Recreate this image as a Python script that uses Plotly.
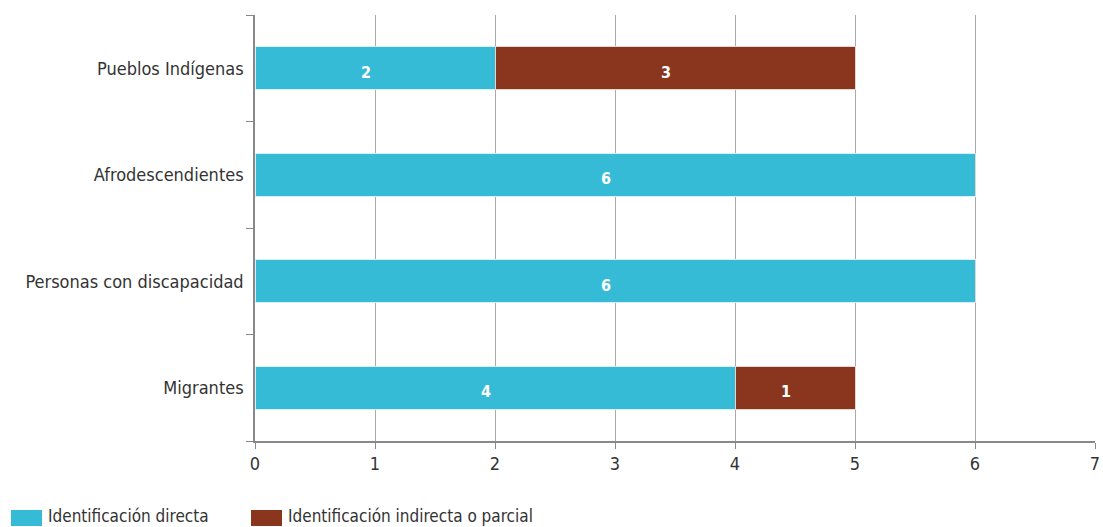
import plotly.graph_objects as go

categories = ["Migrantes", "Personas con discapacidad", "Afrodescendientes", "Pueblos Indígenas"]
directa = [4, 6, 6, 2]
indirecta = [1, 0, 0, 3]
x_ticks = [0, 1, 2, 3, 4, 5, 6, 7]
series_names = ["Identificación directa", "Identificación indirecta o parcial"]
colors = ["#36BBD7", "#8A361F"]

FONT = "DejaVu Sans Condensed, Liberation Sans Narrow, Roboto, sans-serif"
W, H = 1103, 527
ML, MR, MT, MB = 255, 8, 15, 86
PW, PH = W - ML - MR, H - MT - MB

def px_x(p):
    return (p - ML) / PW

def px_y(p):
    return (H - MB - p) / PH

fig = go.Figure()
for vals, name, col, lc in [(directa, series_names[0], colors[0], "#d8f0f6"),
                            (indirecta, series_names[1], colors[1], "#e6d4cf")]:
    fig.add_trace(go.Bar(
        y=categories, x=vals, orientation="h", name=name,
        marker=dict(color=col, line=dict(color=lc, width=1)),
        width=0.4, showlegend=False, hoverinfo="x+y",
    ))

# value labels, positioned from the data (segment midpoints)
for cat, d, i in zip(categories, directa, indirecta):
    for start, v in [(0, d), (d, i)]:
        if v:
            fig.add_annotation(x=start + v / 2, y=cat, text=f"<b>{v}</b>", showarrow=False,
                               xshift=-9, yshift=-4,
                               font=dict(size=16, color="white", family=FONT))

# custom legend with wide swatches
legend_x = [11, 251]
for lx, name, col in zip(legend_x, series_names, colors):
    fig.add_shape(type="rect", xref="paper", yref="paper",
                  x0=px_x(lx), x1=px_x(lx + 31), y0=px_y(526), y1=px_y(510),
                  fillcolor=col, line=dict(width=0))
    fig.add_annotation(xref="paper", yref="paper", x=px_x(lx + 35), y=px_y(516),
                       text=name, showarrow=False, xanchor="left", yanchor="middle",
                       font=dict(size=17, color="#333333", family=FONT))

fig.update_layout(
    barmode="stack",
    width=W, height=H,
    margin=dict(l=ML, r=MR, t=MT, b=MB, autoexpand=False),
    plot_bgcolor="white", paper_bgcolor="white",
    font=dict(family=FONT, size=18, color="#333333"),
    showlegend=False,
)
fig.update_xaxes(
    range=[0, 7], tickvals=x_ticks, showgrid=True, gridcolor="#aaaaaa", gridwidth=1,
    showline=True, linecolor="#888888", linewidth=1.5, ticks="outside", ticklen=6,
    tickcolor="#888888", zeroline=False, tickfont=dict(size=18, color="#333333"),
    automargin=False,
)
fig.update_yaxes(
    showline=True, linecolor="#888888", linewidth=1.5, ticks="outside", ticklen=7,
    tickcolor="#888888", tickson="boundaries", ticklabelstandoff=6,
    tickfont=dict(size=18, color="#333333"), automargin=False,
)
fig.write_html("out.html", config={"displayModeBar": False},
               post_script="document.body.style.margin='0';document.body.style.overflow='hidden';")
